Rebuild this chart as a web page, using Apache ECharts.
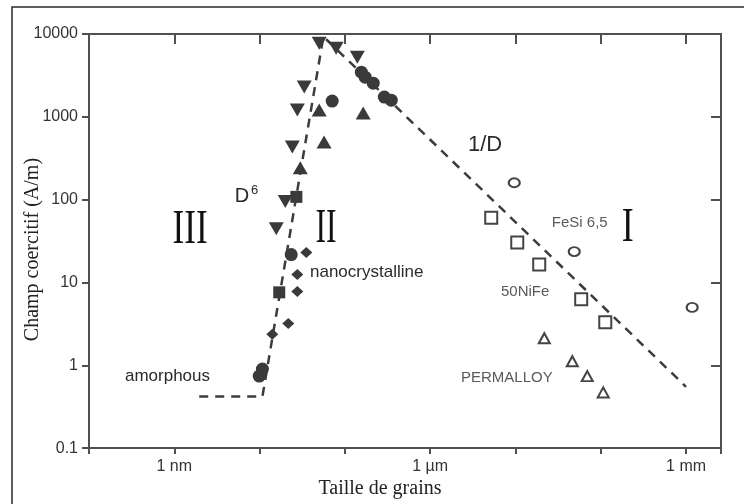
<!DOCTYPE html>
<html><head><meta charset="utf-8">
<script src="https://cdn.jsdelivr.net/npm/echarts@6/dist/echarts.min.js"></script>
<style>html,body{margin:0;padding:0;background:#fff}#c{width:744px;height:504px}</style>
</head><body><div id="c"></div>
<script>
// x: grain size in nm, y: coercive field in A/m
const xTickLabels = {0: '1 nm', 3: '1 µm', 6: '1 mm'};       // by decade exponent
const yTickLabels = {'-1': '0.1', 0: '1', 1: '10', 2: '100', 3: '1000', 4: '10000'};
const modelLine = [[1.96, 0.42], [10.8, 0.42], [56, 9300], [1.0e6, 0.55]];
const filledDownTriangles = [[50, 7730], [79, 6730], [140, 5250], [33.4, 2290], [27.7, 1205], [24.2, 432], [20, 95], [15.7, 44.6]];
const filledCircles = [[156, 3460], [173, 3010], [215, 2550], [290, 1730], [350, 1590], [71, 1550], [10.8, 0.90], [9.9, 0.74], [23.5, 21.7]];
const filledUpTriangles = [[50, 1205], [164, 1110], [57, 498], [30, 242]];
const filledSquares = [[17, 7.6], [27, 108]];
const filledDiamonds = [[35.3, 23], [27.7, 12.5], [27.7, 7.8], [21.7, 3.2], [14.1, 2.37]];
const feSiCircles = [[9680, 160], [48900, 23.6], [1.18e6, 5.0]];
const niFeSquares = [[5200, 60.5], [10500, 30.3], [19000, 16.5], [59000, 6.25], [113000, 3.3]];
const permalloyTriangles = [[21800, 2.12], [46400, 1.12], [69500, 0.74], [107000, 0.47]];
const annotations = [
  {text: 'III', at: [1.53, 42.3], kind: 'roman', sx: 0.73},
  {text: 'II', at: [60, 43.4], kind: 'roman', sx: 0.66},
  {text: 'I', at: [207000, 44.7], kind: 'roman', sx: 0.75},
  {text: 'D{s|6}', at: [5.1, 108], kind: 'big'},
  {text: '1/D', at: [2770, 458], kind: 'big'},
  {text: 'nanocrystalline', at: [39, 13.2], kind: 'dark'},
  {text: 'amorphous', at: [0.264, 0.74], kind: 'dark'},
  {text: 'FeSi 6,5', at: [26700, 52.7], kind: 'gray'},
  {text: '50NiFe', at: [6760, 7.6], kind: 'gray'},
  {text: 'PERMALLOY', at: [2300, 0.70], kind: 'gray'}
];

const X_MIN = 0.1, X_MAX = 2.57e6, Y_MIN = 0.1, Y_MAX = 10000;
const AX = '#505050';
const FILL = '#3a3a3a';
const expOf = v => { const e = Math.log10(v); return Math.abs(e - Math.round(e)) < 1e-6 ? Math.round(e) : null; };

const baseX = {type: 'log', min: X_MIN, max: X_MAX, splitLine: {show: false},
  axisLine: {lineStyle: {color: AX, width: 2}}};
const baseY = {type: 'log', min: Y_MIN, max: Y_MAX, splitLine: {show: false},
  axisLine: {lineStyle: {color: AX, width: 2}}};

function scatter(name, data, symbol, size, filled, rotate) {
  return {
    name, type: 'scatter', data, symbol, symbolSize: size, symbolRotate: rotate || 0,
    itemStyle: filled ? {color: FILL, opacity: 1} : {color: '#fff', borderColor: '#444', borderWidth: 2, opacity: 1},
    z: 3
  };
}

const option = {
  animation: false,
  backgroundColor: '#fff',
  grid: {left: 89, right: 23, top: 34, bottom: 55},
  xAxis: [
    Object.assign({}, baseX, {
      position: 'bottom',
      name: 'Taille de grains', nameLocation: 'middle', nameGap: 27,
      nameTextStyle: {fontFamily: 'Liberation Serif', fontSize: 20, color: '#222', padding: [0, 50, 0, 0]},
      axisTick: {inside: false, length: 6, lineStyle: {color: AX, width: 2}},
      axisLabel: {margin: 10, fontFamily: 'Liberation Sans', fontSize: 16, color: '#333',
        formatter: v => { const e = expOf(v); return (e !== null && xTickLabels[e]) ? xTickLabels[e] : ''; }}
    }),
    Object.assign({}, baseX, {
      position: 'top',
      axisTick: {inside: true, length: 10, lineStyle: {color: AX, width: 2}},
      axisLabel: {show: false}
    })
  ],
  yAxis: [
    Object.assign({}, baseY, {
      position: 'left',
      name: 'Champ coercitif (A/m)', nameLocation: 'middle', nameGap: 46, nameMoveOverlap: false,
      nameTextStyle: {fontFamily: 'Liberation Serif', fontSize: 20, color: '#222', padding: [0, 17, 0, 0]},
      axisTick: {inside: false, length: 7, lineStyle: {color: AX, width: 2}},
      axisLabel: {margin: 11, fontFamily: 'Liberation Sans', fontSize: 16, color: '#333',
        formatter: v => { const e = expOf(v); return (e !== null && yTickLabels[e] !== undefined) ? yTickLabels[e] : ''; }}
    }),
    Object.assign({}, baseY, {
      position: 'right',
      axisTick: {inside: true, length: 10, lineStyle: {color: AX, width: 2}},
      axisLabel: {show: false}
    })
  ],
  series: [
    {name: 'model', type: 'line', data: modelLine, symbol: 'none', z: 2,
      lineStyle: {color: '#3c3c3c', width: 2.5, type: [9, 7]}},
    scatter('down', filledDownTriangles, 'triangle', [15, 13], true, 180),
    scatter('circ', filledCircles, 'circle', 13, true),
    scatter('up', filledUpTriangles, 'triangle', [15, 13], true),
    scatter('sq', filledSquares, 'rect', 12, true),
    scatter('dia', filledDiamonds, 'diamond', [12, 11], true),
    scatter('FeSi', feSiCircles, 'circle', [11, 9], false),
    scatter('NiFe', niFeSquares, 'rect', 12, false),
    scatter('Permalloy', permalloyTriangles, 'triangle', [11, 10], false)
  ]
};

const chart = echarts.init(document.getElementById('c'));
chart.setOption(option);

const graphics = [{
  type: 'rect', silent: true, z: 0,
  shape: {x: 12, y: 7, width: 800, height: 600},
  style: {fill: 'none', stroke: '#2a2a2a', lineWidth: 1.5}
}];
annotations.forEach(a => {
  const p = chart.convertToPixel({seriesIndex: 0}, a.at);
  if (a.kind === 'roman') {
    graphics.push({type: 'text', x: p[0], y: p[1], scaleX: a.sx, z: 5,
      style: {text: a.text, font: '48px "Liberation Serif"', fill: '#111', align: 'center', verticalAlign: 'middle'}});
  } else if (a.kind === 'big') {
    graphics.push({type: 'text', x: p[0], y: p[1], z: 5,
      style: {text: a.text, fontFamily: 'Liberation Sans', fontSize: a.text === '1/D' ? 22 : 20, fill: '#2a2a2a',
        align: 'left', verticalAlign: 'middle',
        rich: {s: {fontFamily: 'Liberation Sans', fontSize: 13, fill: '#2a2a2a', verticalAlign: 'top', padding: [0, 0, 12, 2]}}}});
  } else {
    graphics.push({type: 'text', x: p[0], y: p[1], z: 5,
      style: {text: a.text, fontFamily: 'Liberation Sans', fontSize: a.kind === 'dark' ? 17 : 15,
        fill: a.kind === 'dark' ? '#2a2a2a' : '#5a5a5a', align: 'left', verticalAlign: 'middle'}});
  }
});
chart.setOption({graphic: graphics});
</script></body></html>
